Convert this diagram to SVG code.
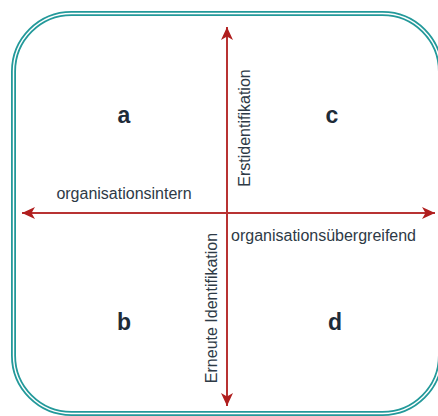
<svg xmlns="http://www.w3.org/2000/svg" width="438" height="416" viewBox="0 0 438 416">
<style>
.frame-outer{fill:#ffffff;stroke:#23999a;stroke-width:5}
.frame-inner{fill:none;stroke:#ffffff;stroke-width:1.4}
.axis{stroke:#b83232;stroke-width:2;fill:none}
.lbl{font-family:"Liberation Sans",Arial,sans-serif;font-size:16px;fill:#2e3a46}
.q{font-family:"Liberation Sans",Arial,sans-serif;font-size:23px;font-weight:bold;fill:#1e2b38;text-anchor:middle}
</style>
<defs>
<marker id="arr" markerUnits="userSpaceOnUse" markerWidth="14" markerHeight="12" refX="13" refY="6" orient="auto-start-reverse">
<path d="M0,0 L13,6 L0,12 L3.5,6 Z" fill="#b01e1e"/>
</marker>
</defs>
<g id="frame">
<rect class="frame-outer" x="13.5" y="13.5" width="427" height="400" rx="58" ry="58"/>
<rect class="frame-inner" x="13.5" y="13.5" width="427" height="400" rx="58" ry="58"/>
</g>
<g id="connectors">
<line class="axis" x1="227" y1="406" x2="227" y2="27" marker-start="url(#arr)" marker-end="url(#arr)"/>
<line class="axis" x1="22" y1="213" x2="435" y2="213" marker-start="url(#arr)" marker-end="url(#arr)"/>
</g>
<g id="quadrant-a"><text class="q" x="124" y="123">a</text></g>
<g id="quadrant-c"><text class="q" x="332" y="123">c</text></g>
<g id="quadrant-b"><text class="q" x="124" y="330">b</text></g>
<g id="quadrant-d"><text class="q" x="335" y="330">d</text></g>
<g id="label-intern"><text class="lbl" x="124" y="199" text-anchor="middle">organisationsintern</text></g>
<g id="label-uebergreifend"><text class="lbl" x="231" y="241">organisationsübergreifend</text></g>
<g id="label-erst"><text class="lbl" transform="translate(250,128) rotate(-90)" text-anchor="middle">Erstidentifikation</text></g>
<g id="label-erneut"><text class="lbl" transform="translate(217,308) rotate(-90)" text-anchor="middle">Erneute Identifikation</text></g>
</svg>
